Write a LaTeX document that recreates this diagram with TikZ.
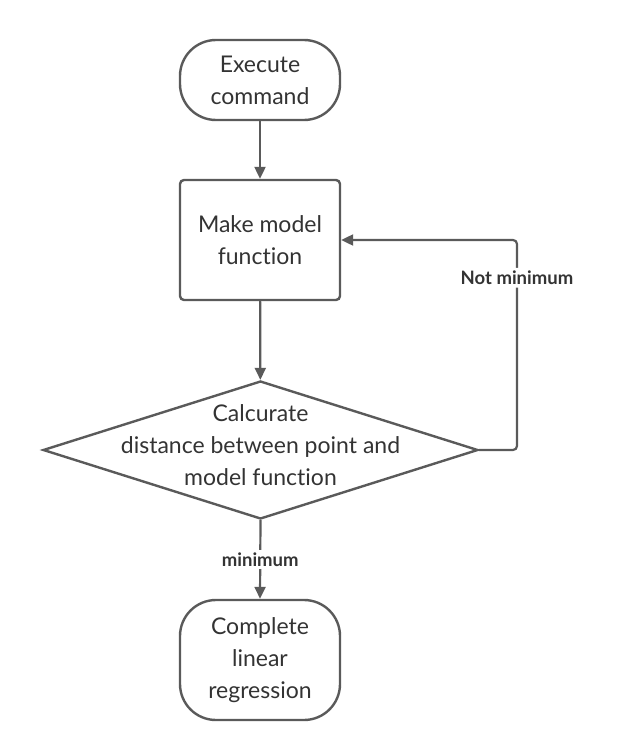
\documentclass[tikz,border=0pt]{standalone}
\usepackage{fontspec}
\setmainfont[Ligatures={NoCommon}]{Lato}
\usetikzlibrary{shapes.geometric,arrows.meta}
\definecolor{linec}{HTML}{5A5A5A}
\definecolor{textc}{HTML}{333333}
\tikzset{
  base/.style={draw=linec, line width=2.4pt, text=textc, align=center, font=\fontsize{23}{32}\selectfont, inner sep=0pt},
  terminal/.style={base, rectangle, rounded corners=36pt, minimum width=160pt},
  procbox/.style={base, rectangle, rounded corners=4pt, minimum width=160pt, minimum height=120pt},
  decision/.style={draw=linec, line width=2.4pt, diamond, minimum width=435pt, minimum height=138pt, inner sep=0pt},
  dtext/.style={text=textc, align=center, font=\fontsize{23}{32}\selectfont, inner sep=0pt},
  conn/.style={draw=linec, line width=2.2pt, -{Triangle[length=12pt,width=11pt]}},
  lbl/.style={fill=white, text=textc, font=\bfseries\fontsize{18.5}{22}\selectfont, inner sep=3pt}
}
\begin{document}
\begin{tikzpicture}[x=1pt,y=-1pt]
\useasboundingbox (0,0) rectangle (618,749);
\node[terminal, minimum height=80pt] (start) at (260,80) {Execute\\command};
\node[procbox] (make) at (260,240) {Make model\\function};
\node[decision] (calc) at (260.5,450) {};
\node[dtext] (calctext) at (260.5,445) {Calcurate\\distance between point and\\model function};
\node[terminal, minimum height=120pt] (done) at (260,660) {Complete\\linear\\regression};
\draw[conn] (start) -- (make);
\draw[conn] (make) -- (calc);
\draw[conn] (calc.south) -- node[lbl, pos=0.5] {minimum} (done.north);
\draw[conn, rounded corners=4pt] (calc.east) -- (517,450) -- node[lbl, pos=0.82] {Not minimum} (517,240) -- (make.east);
\end{tikzpicture}
\end{document}
